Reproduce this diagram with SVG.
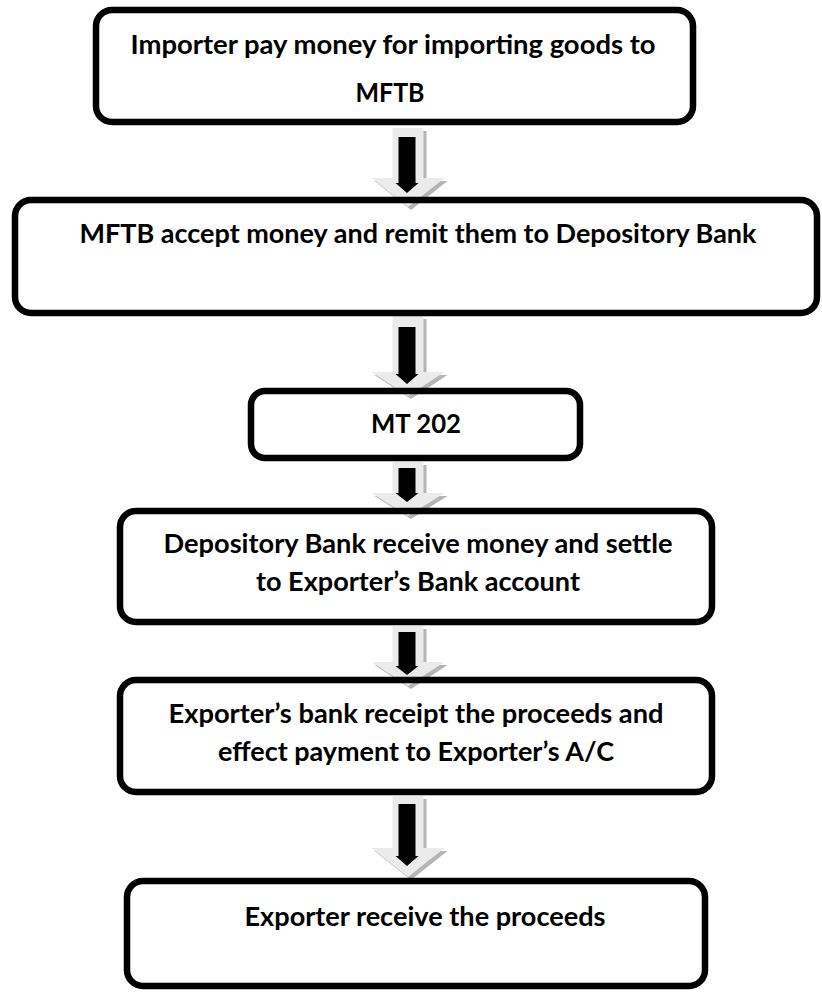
<svg xmlns="http://www.w3.org/2000/svg" width="822" height="993" viewBox="0 0 822 993">
<style>
.box{fill:none;stroke:#000;stroke-width:6.5}
.t{font-family:Lato,"Open Sans","Liberation Sans",sans-serif;font-weight:bold;font-size:26px;fill:#000;text-anchor:middle}
.sh{fill:#b5b5b5}
.ga{fill:#ebebeb}
.ba{fill:#000}
</style>
<rect width="822" height="993" fill="#fff"/>
<g id="connectors">
 <g id="a1">
  <polygon class="sh" transform="translate(3,3)" points="392.5,128 423.5,128 423.5,178 444.5,178 408,207 371.5,178 392.5,178"/>
  <polygon class="ga" points="392.5,128 423.5,128 423.5,178 444.5,178 408,207 371.5,178 392.5,178"/>
  <polygon class="ba" points="398.5,137 415.5,137 415.5,183 418.5,183 407,193 395.5,183 398.5,183"/>
 </g>
 <g id="a2">
  <polygon class="sh" transform="translate(3,3)" points="392.5,316 423.5,316 423.5,372 444.5,372 408,396 371.5,372 392.5,372"/>
  <polygon class="ga" points="392.5,316 423.5,316 423.5,372 444.5,372 408,396 371.5,372 392.5,372"/>
  <polygon class="ba" points="398.5,327 415.5,327 415.5,374 418.5,374 407,384 395.5,374 398.5,374"/>
 </g>
 <g id="a3">
  <polygon class="sh" transform="translate(3,3)" points="392.5,462 423.5,462 423.5,493 444.5,493 408,516 371.5,493 392.5,493"/>
  <polygon class="ga" points="392.5,462 423.5,462 423.5,493 444.5,493 408,516 371.5,493 392.5,493"/>
  <polygon class="ba" points="398.5,468 415.5,468 415.5,493 418.5,493 407,502 395.5,493 398.5,493"/>
 </g>
 <g id="a4">
  <polygon class="sh" transform="translate(3,3)" points="392.5,626 423.5,626 423.5,662 444.5,662 408,686 371.5,662 392.5,662"/>
  <polygon class="ga" points="392.5,626 423.5,626 423.5,662 444.5,662 408,686 371.5,662 392.5,662"/>
  <polygon class="ba" points="398.5,632 415.5,632 415.5,666 418.5,666 407,675 395.5,666 398.5,666"/>
 </g>
 <g id="a5">
  <polygon class="sh" transform="translate(3,3)" points="392.5,796 423.5,796 423.5,848 444.5,848 408,877 371.5,848 392.5,848"/>
  <polygon class="ga" points="392.5,796 423.5,796 423.5,848 444.5,848 408,877 371.5,848 392.5,848"/>
  <polygon class="ba" points="398.5,804 415.5,804 415.5,856 418.5,856 407,866 395.5,856 398.5,856"/>
 </g>
</g>
<g id="n1">
 <rect class="box" x="96" y="10" width="597" height="112" rx="16"/>
 <text class="t" x="393" y="54" textLength="525" lengthAdjust="spacingAndGlyphs">Importer pay money for importing goods to</text>
 <text class="t" x="390" y="102" textLength="69" lengthAdjust="spacingAndGlyphs">MFTB</text>
</g>
<g id="n2">
 <rect class="box" x="15" y="200" width="802" height="113" rx="16"/>
 <text class="t" x="418" y="243" textLength="677" lengthAdjust="spacingAndGlyphs">MFTB accept money and remit them to Depository Bank</text>
</g>
<g id="n3">
 <rect class="box" x="251" y="391" width="329" height="67" rx="14"/>
 <text class="t" x="416" y="433" textLength="90" lengthAdjust="spacingAndGlyphs">MT 202</text>
</g>
<g id="n4">
 <rect class="box" x="120" y="511" width="592" height="111" rx="16"/>
 <text class="t" x="418" y="553" textLength="509" lengthAdjust="spacingAndGlyphs">Depository Bank receive money and settle</text>
 <text class="t" x="418" y="591" textLength="324" lengthAdjust="spacingAndGlyphs">to Exporter’s Bank account</text>
</g>
<g id="n5">
 <rect class="box" x="120" y="680" width="592" height="112" rx="16"/>
 <text class="t" x="416" y="723" textLength="495" lengthAdjust="spacingAndGlyphs">Exporter’s bank receipt the proceeds and</text>
 <text class="t" x="416" y="761" textLength="396" lengthAdjust="spacingAndGlyphs">effect payment to Exporter’s A/C</text>
</g>
<g id="n6">
 <rect class="box" x="127" y="881" width="578" height="105" rx="16"/>
 <text class="t" x="425" y="926" textLength="361" lengthAdjust="spacingAndGlyphs">Exporter receive the proceeds</text>
</g>
</svg>
